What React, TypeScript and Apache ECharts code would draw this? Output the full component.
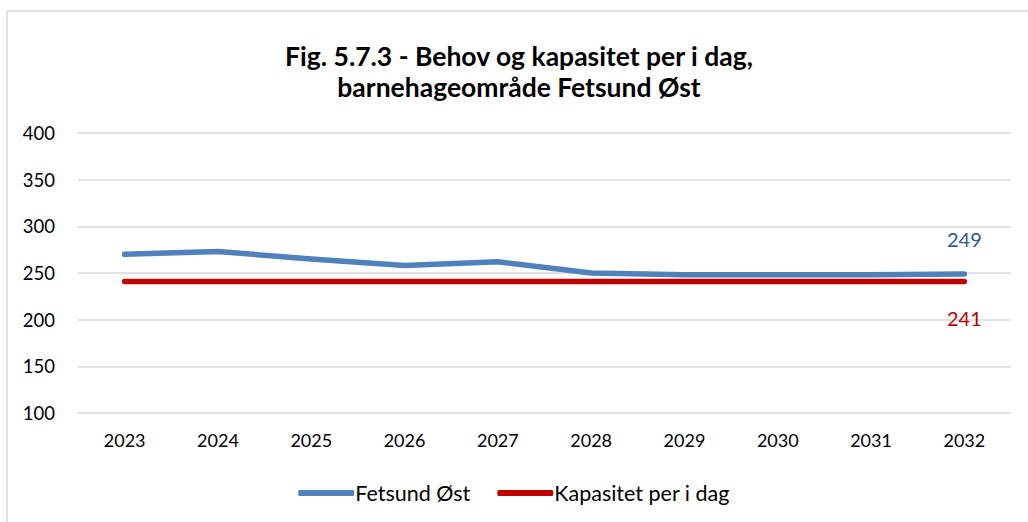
import React, { useEffect, useRef } from "react";
import * as echarts from "echarts";

const years = ["2023", "2024", "2025", "2026", "2027", "2028", "2029", "2030", "2031", "2032"];
const fetsundOst = [270, 273, 265, 258, 262, 250, 248, 248, 248, 249];
const kapasitet = [241, 241, 241, 241, 241, 241, 241, 241, 241, 241];
const seriesNames = ["Fetsund Øst", "Kapasitet per i dag"];
const titleLines = ["Fig. 5.7.3 - Behov og kapasitet per i dag,", "barnehageområde Fetsund Øst"];

const FONT = "Lato, 'Open Sans', sans-serif";

function withLastLabel(values: number[], color: string, position: string, dist: number) {
  return values.map((v, i) =>
    i === values.length - 1
      ? {
          value: v,
          label: {
            show: true,
            position,
            distance: dist,
            color,
            fontSize: 20,
            fontFamily: FONT,
          },
        }
      : v
  );
}

export default function App() {
  const ref = useRef<HTMLDivElement>(null);
  useEffect(() => {
    if (!ref.current) return;
    const chart = echarts.init(ref.current, undefined, { renderer: "svg" });
    const titleStyle = {
      fontFamily: FONT,
      fontSize: 26.5,
      fontWeight: "bold",
      color: "#000",
    };
    chart.setOption({
      animation: false,
      backgroundColor: "#fff",
      graphic: [
        {
          type: "rect",
          shape: { x: 7, y: 11, width: 1100, height: 600 },
          style: { fill: "none", stroke: "#d9d9d9", lineWidth: 1.5 },
          silent: true,
        },
      ],
      title: [
        { text: titleLines[0], left: 519, textAlign: "center", top: 42, padding: 0, textStyle: titleStyle },
        { text: titleLines[1], left: 519, textAlign: "center", top: 73, padding: 0, textStyle: titleStyle },
      ],
      legend: {
        bottom: 13,
        left: "center",
        itemWidth: 56,
        itemHeight: 6,
        itemGap: 27,
        icon: "roundRect",
        textStyle: { fontFamily: FONT, fontSize: 21.5, color: "#000", padding: [0, 0, 0, -4] },
        data: seriesNames,
      },
      grid: { left: 78, right: 17, top: 133, bottom: 109, containLabel: false },
      xAxis: {
        type: "category",
        data: years,
        boundaryGap: true,
        axisLine: { show: false },
        axisTick: { show: false },
        axisLabel: { color: "#000", fontSize: 18, fontFamily: FONT, margin: 18 },
      },
      yAxis: {
        type: "value",
        min: 100,
        max: 400,
        interval: 50,
        axisLine: { show: false },
        axisTick: { show: false },
        axisLabel: { color: "#000", fontSize: 18.5, fontFamily: FONT, margin: 23 },
        splitLine: { lineStyle: { color: "#d9d9d9", width: 1.5 } },
      },
      series: [
        {
          name: seriesNames[0],
          type: "line",
          data: withLastLabel(fetsundOst, "#2f5b8f", "top", 24),
          symbol: "circle",
          symbolSize: 1,
          showSymbol: true,
          itemStyle: { color: "#4f81bd" },
          color: "#4f81bd",
          lineStyle: { width: 5.5, color: "#4f81bd", cap: "round", join: "round" },
          z: 3,
        },
        {
          name: seriesNames[1],
          type: "line",
          data: withLastLabel(kapasitet, "#c00000", "bottom", 26),
          symbol: "circle",
          symbolSize: 1,
          showSymbol: true,
          itemStyle: { color: "#c00000" },
          color: "#c00000",
          lineStyle: { width: 5.5, color: "#c00000", cap: "round", join: "round" },
          z: 2,
        },
      ],
    });
    return () => chart.dispose();
  }, []);
  return (
    <div
      ref={ref}
      style={{ position: "fixed", left: 0, top: 0, width: 1028, height: 522 }}
    />
  );
}
